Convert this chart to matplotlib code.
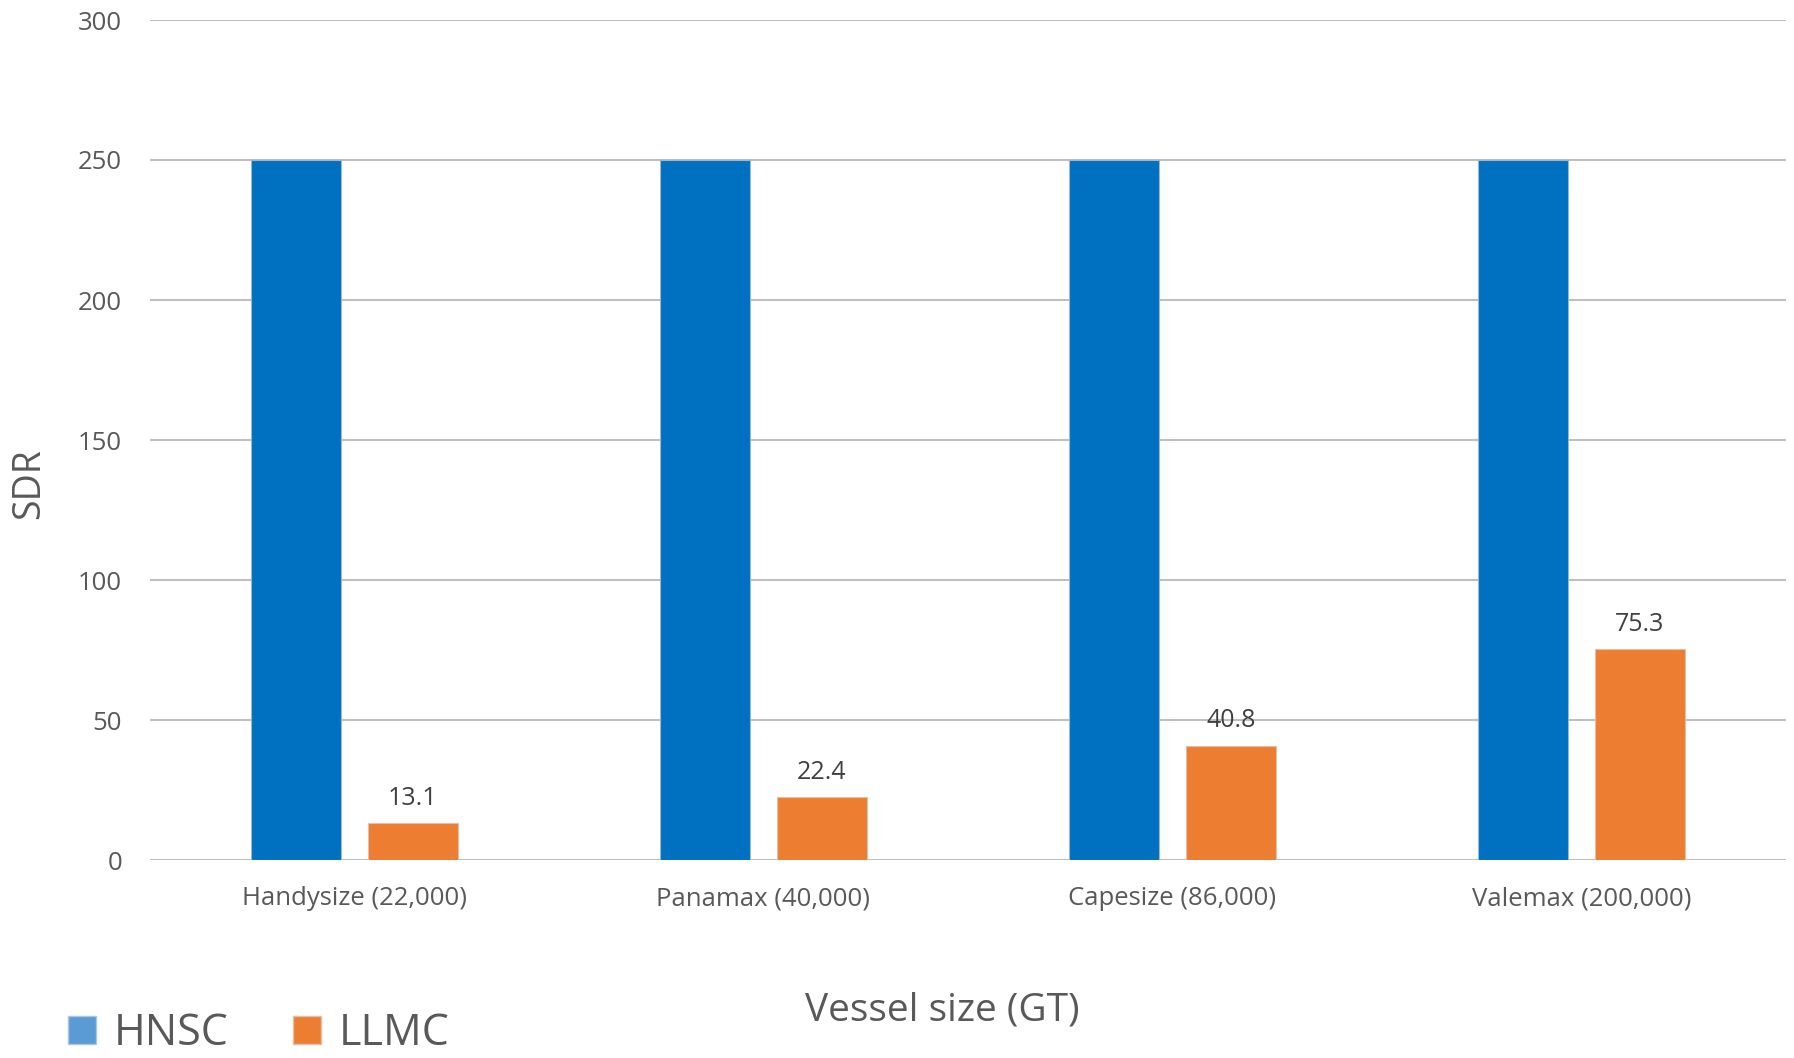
import matplotlib
matplotlib.use('Agg')
import matplotlib.pyplot as plt
from matplotlib.patches import Patch
import numpy as np

plt.rcParams['font.family'] = ['Open Sans', 'DejaVu Sans']

# data
categories = ['Handysize (22,000)', 'Panamax (40,000)', 'Capesize (86,000)', 'Valemax (200,000)']
hnsc = [250, 250, 250, 250]
llmc = [13.1, 22.4, 40.8, 75.3]
yticks = [0, 50, 100, 150, 200, 250, 300]

blue = '#0070C0'
blue_legend = '#5B9BD5'
orange = '#ED7D31'
grey = '#595959'

fig = plt.figure(figsize=(17.94, 10.58), dpi=100)
ax = fig.add_axes([150/1794, 1-860/1058, (1786-150)/1794, (860-20)/1058])

x = np.arange(len(categories))
w = 0.222
off = 0.143
ax.bar(x - off, hnsc, w, color=blue, edgecolor='#9DB7CF', linewidth=0.8, zorder=3)
ax.bar(x + off, llmc, w, color=orange, edgecolor='#E0C0A8', linewidth=0.8, zorder=3)

for xi, v in zip(x + off, llmc):
    ax.annotate(f'{v}', (xi, v), xytext=(0, 18), textcoords='offset points',
                ha='center', va='center', fontsize=18, color='#404040')

ax.set_xlim(-0.5, 3.5)
ax.set_ylim(0, 300)
ax.set_yticks(yticks)
ax.set_xticks(x)
ax.set_xticklabels(categories)
ax.tick_params(axis='y', length=0, pad=20, labelsize=18.5, labelcolor=grey)
ax.tick_params(axis='x', length=0, pad=19, labelsize=18.5, labelcolor=grey)
ax.grid(axis='y', color='#BFBFBF', linewidth=1.5, zorder=0)
for s in ax.spines.values():
    s.set_visible(False)

fig.text(942/1794, 1-1011/1058, 'Vessel size (GT)', ha='center', va='center', fontsize=28, color=grey)
fig.text(29/1794, 1-484/1058, 'SDR', ha='center', va='center', rotation=90, fontsize=27, color=grey)

handles = [Patch(facecolor=blue_legend, edgecolor='#A9C6E3', label='HNSC'),
           Patch(facecolor=orange, edgecolor='#E0C0A8', label='LLMC')]
fig.legend(handles=handles, loc='center left', bbox_to_anchor=(68/1794, 1-1034/1058), ncol=2,
           frameon=False, fontsize=31, labelcolor=grey, handlelength=0.64, handleheight=0.64,
           handletextpad=0.42, columnspacing=1.5, borderpad=0, borderaxespad=0)

fig.savefig('out.png', dpi=100)
